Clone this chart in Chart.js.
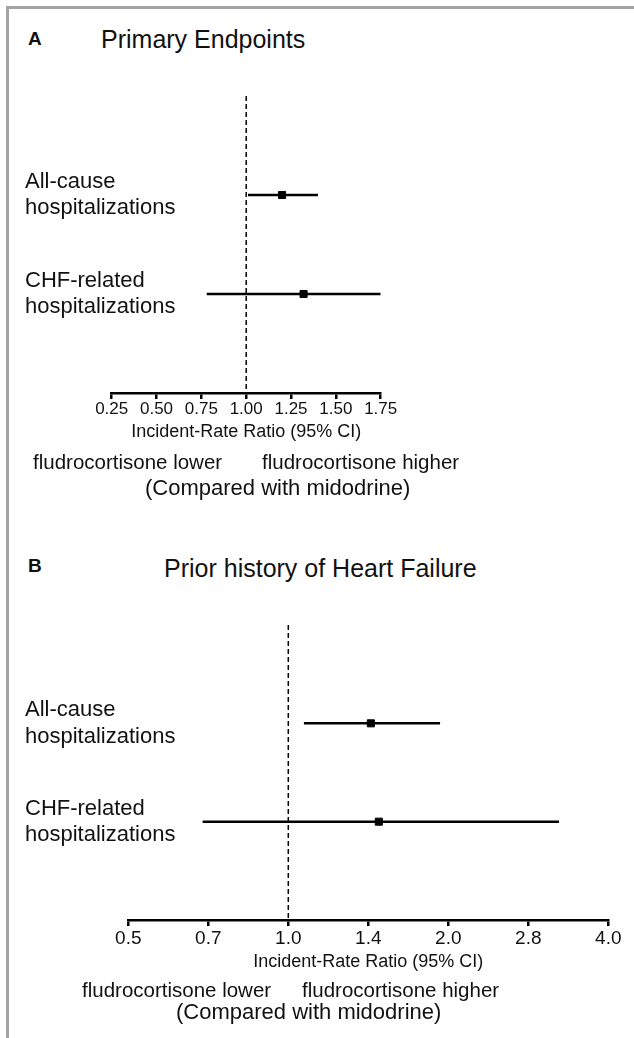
<!DOCTYPE html>
<html>
<head>
<meta charset="utf-8">
<title>Forest plots</title>
<script src="https://cdn.jsdelivr.net/npm/chart.js@4.4.1/dist/chart.umd.min.js"></script>
<style>
    html, body { margin: 0; padding: 0; background: #fff; overflow: hidden; }
    body { width: 634px; height: 1038px; position: relative;
           font-family: "Liberation Sans", Arial, sans-serif; color: #111; }
    .frame { position: absolute; left: 6px; top: 6px; width: 700px; height: 1100px;
             border-left: 3px solid #a3a3a3; border-top: 3px solid #a3a3a3; }
    .txt { position: absolute; white-space: nowrap; line-height: 30px; height: 30px; }
    .letter { font-weight: bold; font-size: 19px; }
    .head { font-size: 25px; }
    .side { font-size: 20.5px; }
    .comp { font-size: 22px; }
    canvas { position: absolute; left: 0; }
</style>
</head>
<body>
<div class="frame"></div>

<div class="txt letter" style="left:28px; top:24px;">A</div>
<div class="txt head" style="left:101px; top:24px;">Primary Endpoints</div>
<canvas id="chartA" width="634" height="394" style="top:56px;"></canvas>
<div class="txt side" style="left:33px; top:447px;">fludrocortisone lower</div>
<div class="txt side" style="left:262px; top:447px;">fludrocortisone higher</div>
<div class="txt comp" style="left:145px; top:473px;">(Compared with midodrine)</div>

<div class="txt letter" style="left:28px; top:551px;">B</div>
<div class="txt head" style="left:164px; top:553px;">Prior history of Heart Failure</div>
<canvas id="chartB" width="634" height="391" style="top:585px;"></canvas>
<div class="txt side" style="left:82px; top:975px;">fludrocortisone lower</div>
<div class="txt side" style="left:302px; top:975px;">fludrocortisone higher</div>
<div class="txt comp" style="left:176px; top:997px;">(Compared with midodrine)</div>

<script>
var rowLabels = [['All-cause', 'hospitalizations'], ['CHF-related', 'hospitalizations']];
var axisTitle = 'Incident-Rate Ratio (95% CI)';
var refValue = 1;

// A: primary endpoints
var estA = [1.20, 1.32];
var lowA = [1.01, 0.78];
var highA = [1.40, 1.75];
var ticksA = [0.25, 0.50, 0.75, 1.00, 1.25, 1.50, 1.75];
var tickLabelsA = ['0.25', '0.50', '0.75', '1.00', '1.25', '1.50', '1.75'];

// B: prior history of heart failure (log axis)
var estB = [1.43, 1.48];
var lowB = [1.07, 0.69];
var highB = [1.93, 3.23];
var ticksB = [0.5, 0.7071, 1.0, 1.4142, 2.0, 2.8284, 4.0];
var tickLabelsB = ['0.5', '0.7', '1.0', '1.4', '2.0', '2.8', '4.0'];

(function() {

    'use strict';

    Chart.defaults.font.family = '"Liberation Sans", Arial, sans-serif';
    Chart.defaults.color = '#111';

    var rowMax = rowLabels.length + 1;

    makeForest('chartA', {
        est : estA, low : lowA, high : highA,
        xType : 'linear', xMin : 0.25, xMax : 1.75,
        ticks : ticksA, tickLabels : tickLabelsA, tickSize : 17, tickPad : 0,
        padding : { top : 40, left : 25, right : 253.3, bottom : 0 },
        yWidth : 86.7, xHeight : 57, titlePad : 7.2
    });

    makeForest('chartB', {
        est : estB, low : lowB, high : highB,
        xType : 'logarithmic', xMin : 0.5, xMax : 4,
        ticks : ticksB, tickLabels : tickLabelsB, tickSize : 19, tickPad : 1,
        padding : { top : 40, left : 25, right : 25.7, bottom : 0 },
        yWidth : 103.3, xHeight : 56, titlePad : 3.2
    });

    function buildDatasets(est, low, high) {
        var sets = [];
        sets.push({
            label : 'estimate',
            data : est.map(function(v, i) { return { x : v, y : i + 1 }; }),
            pointStyle : 'rect',
            pointRadius : 5,
            pointBorderWidth : 1,
            pointBackgroundColor : '#000',
            pointBorderColor : '#000',
            showLine : false
        });
        low.forEach(function(lo, i) {
            sets.push({
                label : 'ci' + i,
                data : [ { x : lo, y : i + 1 }, { x : high[i], y : i + 1 } ],
                showLine : true,
                borderColor : '#000',
                borderWidth : 2.5,
                pointRadius : 0
            });
        });
        sets.push({
            label : 'reference',
            data : [ { x : refValue, y : 0 }, { x : refValue, y : rowMax } ],
            showLine : true,
            borderColor : '#000',
            borderWidth : 1.5,
            borderDash : [ 5, 3 ],
            pointRadius : 0
        });
        return sets;
    }

    function makeForest(id, cfg) {
        var ctx = document.getElementById(id);
        return new Chart(ctx, {
            type : 'scatter',
            data : { datasets : buildDatasets(cfg.est, cfg.low, cfg.high) },
            options : {
                responsive : false,
                animation : false,
                devicePixelRatio : 1,
                layout : { padding : cfg.padding },
                plugins : { legend : { display : false }, tooltip : { enabled : false } },
                scales : {
                    x : {
                        type : cfg.xType,
                        min : cfg.xMin,
                        max : cfg.xMax,
                        afterBuildTicks : function(scale) {
                            scale.ticks = cfg.ticks.map(function(v) { return { value : v }; });
                        },
                        afterFit : function(scale) { scale.height = cfg.xHeight; },
                        ticks : {
                            autoSkip : false,
                            maxRotation : 0,
                            padding : cfg.tickPad,
                            color : '#111',
                            font : { size : cfg.tickSize },
                            callback : function(value, index) { return cfg.tickLabels[index]; }
                        },
                        grid : {
                            display : true,
                            drawOnChartArea : false,
                            drawTicks : true,
                            tickLength : 6,
                            tickWidth : 2.5,
                            color : '#000',
                            lineWidth : 2.5
                        },
                        border : { display : true, color : '#000', width : 2.5 },
                        title : {
                            display : true,
                            text : axisTitle,
                            color : '#111',
                            font : { size : 18 },
                            padding : { top : 0, bottom : cfg.titlePad }
                        }
                    },
                    y : {
                        type : 'linear',
                        reverse : true,
                        min : 0,
                        max : rowMax,
                        afterBuildTicks : function(scale) {
                            scale.ticks = rowLabels.map(function(l, i) { return { value : i + 1 }; });
                        },
                        afterFit : function(scale) { scale.width = cfg.yWidth; },
                        // mirrored so the labels are not clipped to the axis box,
                        // negative padding pulls them back to the left margin
                        ticks : {
                            mirror : true,
                            crossAlign : 'near',
                            padding : -cfg.yWidth,
                            color : '#111',
                            font : { size : 22, lineHeight : 1.2 },
                            callback : function(value, index) { return rowLabels[index]; }
                        },
                        grid : { display : false },
                        border : { display : false }
                    }
                }
            }
        });
    }

})();
</script>
</body>
</html>
